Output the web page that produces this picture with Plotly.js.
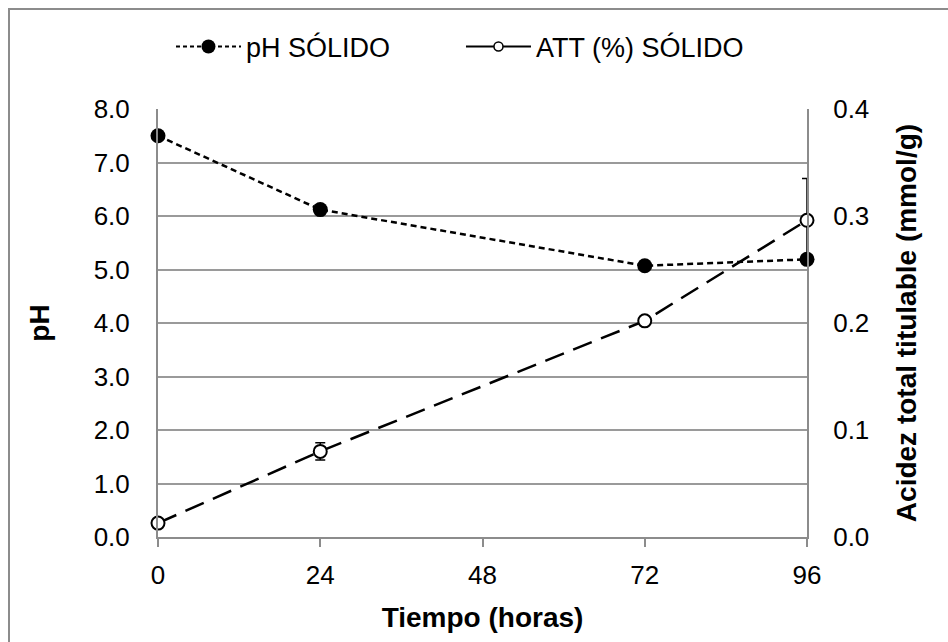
<!DOCTYPE html>
<html>
<head>
<meta charset="utf-8">
<script src="https://cdn.plot.ly/plotly-3.0.1.min.js"></script>
<style>
  html, body { margin: 0; padding: 0; background: #fff; }
  #chart { width: 948px; height: 642px; }
</style>
</head>
<body>
<div id="chart"></div>
<script>
// Fermentation time (hours)
const horas = [0, 24, 72, 96];
// pH of the solid fraction
const phSolido = [7.5, 6.12, 5.07, 5.19];
// Total titratable acidity of the solid fraction (mmol/g) and its error
const attSolido = [0.013, 0.080, 0.202, 0.296];
const attError = [0, 0.008, 0, 0.039];

const xTicks = [0, 24, 48, 72, 96];
const phTicks = [0, 1, 2, 3, 4, 5, 6, 7, 8];
const attTicks = [0, 0.1, 0.2, 0.3, 0.4];

const FONT = 'Liberation Sans, Arial, sans-serif';
const AXIS_GRAY = '#8c8c8c';
const FS = 26;      // tick labels
const FS_T = 28;    // axis titles
const FS_L = 27;    // legend

const phLine = { color: '#000', width: 2.5, dash: '6px,4px' };
const attLine = { color: '#000', width: 2.5, dash: '20px,10px' };

const traces = [
  {
    x: horas, y: phSolido, name: 'pH SÓLIDO', type: 'scatter', mode: 'lines+markers',
    yaxis: 'y', showlegend: false, cliponaxis: false,
    line: phLine,
    marker: { color: '#000', size: 15, symbol: 'circle' }
  },
  {
    x: horas, y: attSolido, name: 'ATT (%) SÓLIDO', type: 'scatter', mode: 'lines+markers',
    yaxis: 'y2', showlegend: false, cliponaxis: false,
    line: attLine,
    marker: { color: '#fff', size: 13, symbol: 'circle', line: { color: '#000', width: 2 } },
    error_y: { type: 'data', array: attError, visible: true, color: '#000', thickness: 1.5, width: 5 }
  },
  // legend entries (smaller symbols than the plotted markers)
  {
    x: [null], y: [null], name: 'pH SÓLIDO', type: 'scatter', mode: 'lines+markers',
    line: { color: '#000', width: 2, dash: '4px,3px' },
    marker: { color: '#000', size: 14, symbol: 'circle' }
  },
  {
    x: [null], y: [null], name: 'ATT (%) SÓLIDO', type: 'scatter', mode: 'lines+markers',
    yaxis: 'y2',
    line: { color: '#000', width: 2 },
    marker: { color: '#fff', size: 9, symbol: 'circle', line: { color: '#000', width: 1.5 } }
  }
];

const layout = {
  width: 948, height: 642,
  paper_bgcolor: '#fff', plot_bgcolor: '#fff',
  font: { family: FONT, size: FS, color: '#000' },
  margin: { l: 158, r: 141, t: 109, b: 105, autoexpand: false },
  showlegend: true,
  legend: {
    orientation: 'h', x: 0.02, xanchor: 'left', y: 1.145, yanchor: 'middle',
    font: { family: FONT, size: FS_L, color: '#000' },
    itemwidth: 65, entrywidth: 210, bgcolor: 'rgba(0,0,0,0)', tracegroupgap: 0
  },
  xaxis: {
    range: [0, 96], tickvals: xTicks, ticktext: xTicks.map(String),
    showgrid: false, zeroline: false,
    showline: true, linecolor: AXIS_GRAY, linewidth: 2,
    ticks: 'outside', ticklen: 8, tickcolor: AXIS_GRAY, tickwidth: 2,
    ticklabelstandoff: 6,
    tickfont: { family: FONT, size: FS },
    title: { text: '<b>Tiempo (horas)</b>', font: { family: FONT, size: FS_T }, standoff: 18 },
    automargin: false
  },
  yaxis: {
    range: [0, 8], tickvals: phTicks, ticktext: phTicks.map(v => v.toFixed(1)),
    showgrid: true, gridcolor: '#9a9a9a', gridwidth: 2,
    zeroline: false, showline: true, linecolor: AXIS_GRAY, linewidth: 2,
    ticks: '', ticklabelstandoff: 21,
    tickfont: { family: FONT, size: FS },
    title: { text: '<b>pH</b>', font: { family: FONT, size: FS_T }, standoff: 36 },
    automargin: false
  },
  yaxis2: {
    range: [0, 0.4], tickvals: attTicks, ticktext: attTicks.map(v => v.toFixed(1)),
    overlaying: 'y', side: 'right', showgrid: false, zeroline: false,
    showline: true, linecolor: AXIS_GRAY, linewidth: 2,
    ticks: '', ticklabelstandoff: 19,
    tickfont: { family: FONT, size: FS },
    title: { text: '<b>Acidez total titulable (mmol/g)</b>', font: { family: FONT, size: FS_T }, standoff: 28 },
    automargin: false
  },
  shapes: [
    {
      type: 'rect', xref: 'paper', yref: 'paper',
      x0: (9 - 158) / 649, x1: 2, y0: -1, y1: (537 - 9) / 428,
      line: { color: AXIS_GRAY, width: 2 }, fillcolor: 'rgba(0,0,0,0)', layer: 'below'
    }
  ]
};

Plotly.newPlot('chart', traces, layout, { displayModeBar: false, staticPlot: true });
</script>
</body>
</html>
